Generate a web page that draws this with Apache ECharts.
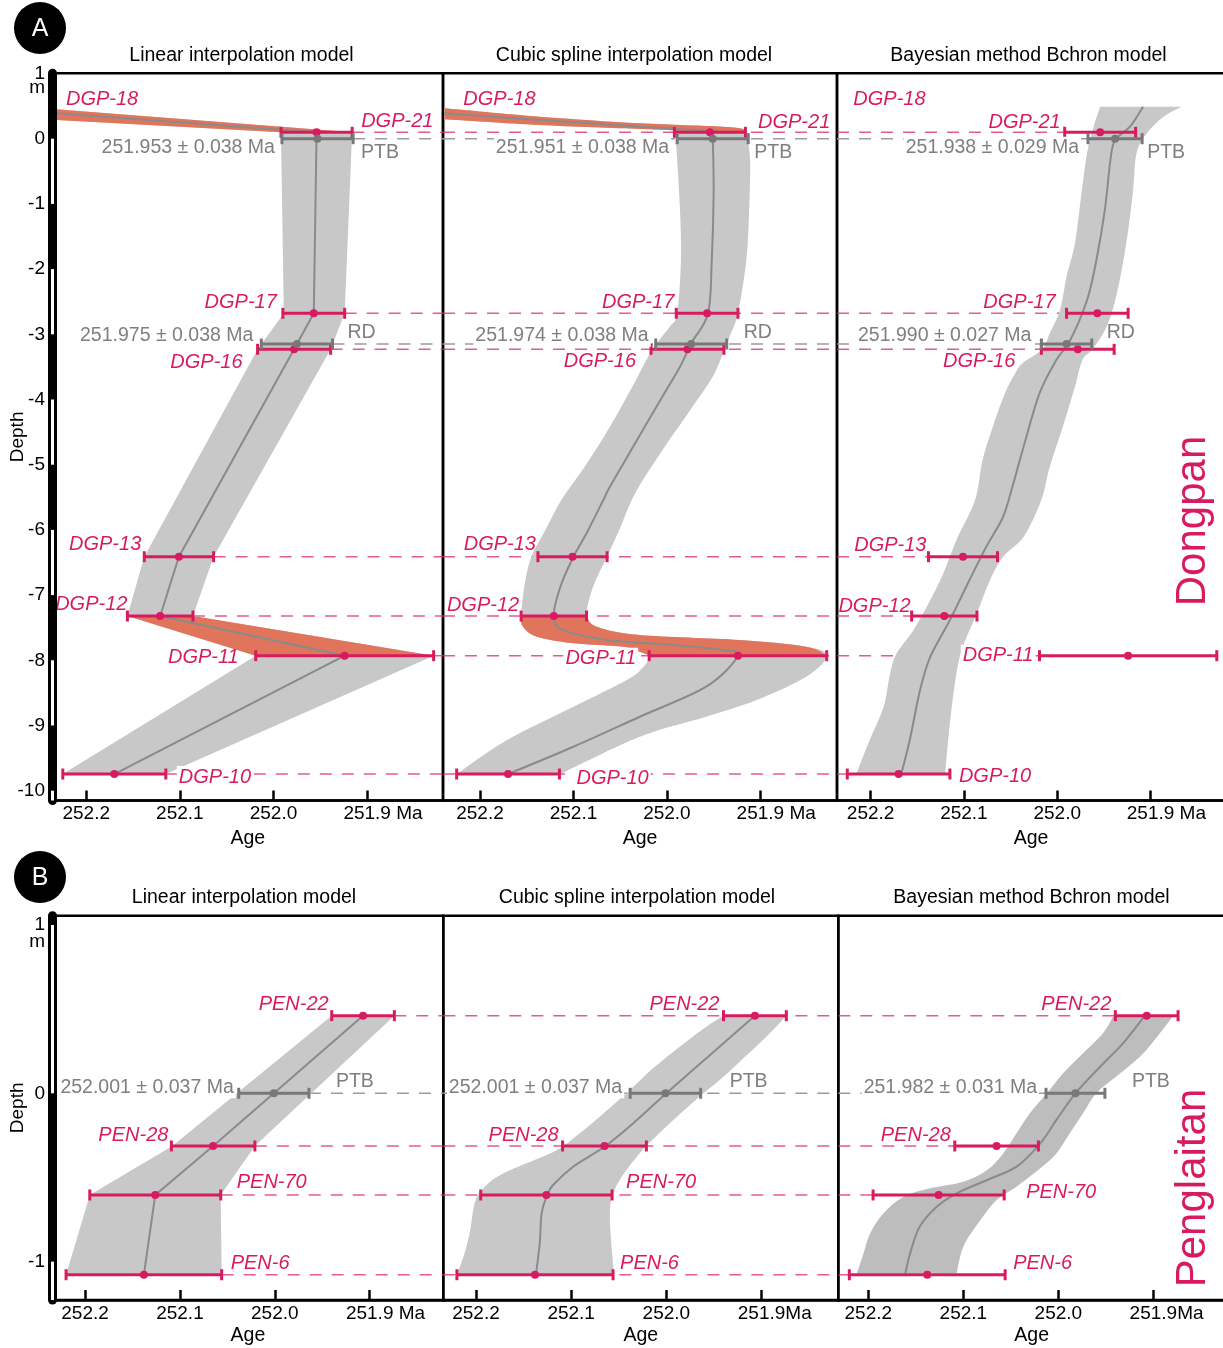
<!DOCTYPE html>
<html>
<head>
<meta charset="utf-8">
<title>Age-depth models: Dongpan and Penglaitan</title>
<script src="https://cdn.jsdelivr.net/npm/echarts@6.0.0/dist/echarts.min.js"></script>
<style>
html,body{margin:0;padding:0;background:#fff;}
#chart{width:1223px;height:1348px;}
</style>
</head>
<body>
<div id="chart"></div>
<script>
// ================= DATA =================
// Dongpan (A): dated ash beds, depth in m, age in Ma, 2-sigma error
const dgpNames = ['DGP-21','DGP-17','DGP-16','DGP-13','DGP-12','DGP-11','DGP-10'];
const dgpDepth = [0.098,-2.678,-3.230,-6.411,-7.321,-7.929,-9.744];
const dgpAge   = [251.954,251.957,251.978,252.101,252.121,251.924,252.170];
const dgpErr   = [0.038,0.033,0.039,0.037,0.035,0.095,0.055];
// Dongpan horizon ages from the three models (linear, spline, Bchron)
const dgpPTBDepth = 0;
const dgpPTBAge = [251.953,251.951,251.938];
const dgpPTBErr = [0.038,0.038,0.029];
const dgpRDDepth = -3.149;
const dgpRDAge = [251.975,251.974,251.990];
const dgpRDErr = [0.038,0.038,0.027];

// Penglaitan (B)
const penNames = ['PEN-22','PEN-28','PEN-70','PEN-6'];
const penDepth = [0.461,-0.313,-0.604,-1.078];
const penAge   = [251.907,252.065,252.126,252.138];
const penErr   = [0.033,0.044,0.069,0.082];
const penPTBDepth = 0;
const penPTBAge = [252.001,252.001,251.982];
const penPTBErr = [0.037,0.037,0.031];

// Model envelopes [age, depth], top -> bottom (lo = older edge, hi = younger edge)
const linA_lo  = [[252.236,0.290],[251.992,0.098],[251.989,-2.678],[252.017,-3.230],[252.138,-6.411],[252.156,-7.321],[252.019,-7.929],[252.225,-9.744]];
const linA_hi  = [[252.236,0.455],[251.916,0.098],[251.924,-2.678],[251.939,-3.230],[252.064,-6.411],[252.086,-7.321],[251.829,-7.929],[252.115,-9.744]];
const linA_mid = [[252.236,0.394],[251.954,0.098],[251.957,-2.678],[251.978,-3.230],[252.101,-6.411],[252.121,-7.321],[251.924,-7.929],[252.170,-9.744]];

const splA_lo  = [[252.238,0.298],[252.136,0.210],[252.029,0.149],[251.991,0.123],[251.991,0.098],
  [251.989,-0.327],[251.986,-1.094],[251.985,-1.860],[251.989,-2.678],[251.997,-2.883],[252.011,-3.138],[252.022,-3.394],
  [252.037,-3.804],[252.061,-4.417],[252.088,-5.031],[252.113,-5.541],[252.130,-6.002],[252.145,-6.411],[252.152,-6.819],[252.156,-7.321],
  [252.154,-7.485],[252.139,-7.638],[252.100,-7.739],[252.047,-7.791],[252.029,-7.868],[252.019,-7.929],
  [252.025,-8.098],[252.043,-8.302],[252.100,-8.712],[252.171,-9.222],[252.225,-9.744]];
const splA_hi  = [[252.238,0.466],[252.136,0.337],[252.029,0.236],[251.940,0.184],[251.917,0.144],[251.915,0.098],
  [251.911,-0.327],[251.912,-1.094],[251.915,-1.860],[251.924,-2.678],[251.933,-3.037],[251.940,-3.291],[251.951,-3.650],
  [251.975,-4.161],[252.007,-4.825],[252.034,-5.439],[252.051,-6.002],[252.064,-6.411],[252.079,-6.871],[252.086,-7.321],
  [252.075,-7.485],[252.029,-7.612],[251.922,-7.689],[251.851,-7.791],[251.829,-7.929],
  [251.851,-8.252],[251.904,-8.609],[251.958,-8.865],[252.029,-9.172],[252.114,-9.744]];
const splA_mid = [[252.238,0.390],[252.136,0.287],[252.029,0.184],[251.952,0.107],[251.951,0.031],[251.950,-0.837],[251.952,-1.860],
  [251.956,-2.678],[251.974,-3.138],[251.986,-3.497],[252.007,-4.008],[252.034,-4.672],[252.061,-5.337],[252.068,-5.541],[252.086,-6.052],
  [252.100,-6.411],[252.114,-6.871],[252.121,-7.321],[252.111,-7.534],[252.064,-7.689],[251.993,-7.765],[251.940,-7.842],[251.924,-7.929],
  [251.958,-8.405],[252.029,-8.865],[252.100,-9.325],[252.170,-9.744]];

const bayA_lo  = [[251.954,0.491],[251.961,0.184],[251.968,-0.224],[251.974,-0.837],[251.981,-1.604],[251.990,-2.117],[251.997,-2.627],
  [252.008,-2.985],[252.016,-3.230],[252.037,-3.440],[252.045,-3.598],[252.056,-3.905],[252.069,-4.417],[252.080,-4.928],[252.088,-5.541],
  [252.108,-6.155],[252.122,-6.666],[252.136,-7.075],[252.154,-7.534],[252.172,-7.893],[252.179,-8.200],[252.186,-8.712],[252.201,-9.222],[252.215,-9.733]];
const bayA_hi  = [[251.867,0.491],[251.886,0.337],[251.904,0.083],[251.915,-0.224],[251.919,-0.837],[251.926,-1.604],[251.936,-2.371],
  [251.947,-2.883],[251.962,-3.225],[251.973,-3.394],[251.981,-3.804],[251.994,-4.417],[252.008,-5.031],[252.017,-5.541],[252.036,-6.104],
  [252.058,-6.411],[252.072,-6.768],[252.086,-7.279],[252.101,-7.791],[252.108,-8.200],[252.115,-8.966],[252.120,-9.733]];
const bayA_mid = [[251.908,0.491],[251.922,0.184],[251.938,-0.020],[251.943,-0.327],[251.949,-1.094],[251.958,-1.860],[251.968,-2.474],
  [251.986,-3.087],[252.001,-3.394],[252.019,-3.905],[252.035,-4.672],[252.048,-5.337],[252.058,-5.798],[252.076,-6.258],[252.094,-6.768],
  [252.115,-7.382],[252.136,-7.945],[252.147,-8.456],[252.158,-9.222],[252.167,-9.733]];

const linB_lo  = [[251.940,0.461],[252.108,-0.313],[252.195,-0.604],[252.220,-1.078]];
const linB_hi  = [[251.874,0.461],[252.021,-0.313],[252.057,-0.604],[252.056,-1.078]];
const linB_mid = [[251.907,0.461],[252.065,-0.313],[252.126,-0.604],[252.138,-1.078]];

const splB_lo  = [[251.940,0.461],[251.958,0.396],[251.986,0.277],[252.014,0.149],[252.042,0.000],[252.070,-0.139],[252.091,-0.238],
  [252.108,-0.313],[252.122,-0.357],[252.147,-0.416],[252.171,-0.475],[252.185,-0.525],[252.194,-0.575],[252.199,-0.614],[252.203,-0.693],
  [252.206,-0.812],[252.212,-0.951],[252.220,-1.078]];
const splB_hi  = [[251.874,0.461],[251.895,0.336],[251.923,0.188],[251.944,0.079],[251.961,0.000],[251.979,-0.089],[252.000,-0.198],
  [252.021,-0.313],[252.031,-0.377],[252.042,-0.456],[252.051,-0.535],[252.056,-0.600],[252.059,-0.674],[252.059,-0.793],[252.057,-0.951],[252.055,-1.078]];
const splB_mid = [[251.907,0.461],[251.952,0.238],[252.000,0.000],[252.031,-0.159],[252.064,-0.313],[252.098,-0.436],[252.119,-0.545],
  [252.125,-0.604],[252.131,-0.713],[252.133,-0.891],[252.137,-1.078]];

const bayB_lo  = [[251.942,0.461],[251.953,0.357],[251.974,0.238],[251.995,0.119],[252.012,0.000],[252.030,-0.119],[252.044,-0.238],
  [252.058,-0.357],[252.075,-0.456],[252.100,-0.525],[252.135,-0.564],[252.163,-0.614],[252.184,-0.713],[252.198,-0.832],[252.205,-0.951],[252.212,-1.070]];
const bayB_hi  = [[251.879,0.461],[251.896,0.336],[251.914,0.218],[251.939,0.099],[251.960,0.000],[251.974,-0.119],[251.988,-0.238],
  [252.002,-0.357],[252.019,-0.446],[252.044,-0.555],[252.065,-0.634],[252.082,-0.753],[252.100,-0.911],[252.107,-1.070]];
const bayB_mid = [[251.909,0.461],[251.932,0.297],[251.956,0.158],[251.982,0.000],[252.002,-0.158],[252.019,-0.297],[252.044,-0.436],
  [252.075,-0.515],[252.107,-0.594],[252.128,-0.674],[252.146,-0.793],[252.156,-0.951],[252.161,-1.070]];

// depth ranges (bottom, top) where model ages reverse (drawn orange)
const reversalA = [[0.098, 2.0], [-7.929, -7.321]];

// section scale-bar: white intervals (top, bottom) in m
const whiteA = [[0,-1],[-2,-3],[-4,-5],[-6,-7],[-8,-9],[-10,-10.15]];
const whiteB = [[1,0],[-1,-1.228]];

// axis text
const modelTitles = ['Linear interpolation model','Cubic spline interpolation model','Bayesian method Bchron model'];
const xTickVals = [252.2,252.1,252.0,251.9];
const xTickTextA = ['252.2','252.1','252.0','251.9 Ma'];
const xTickTextB = [['252.2','252.1','252.0','251.9 Ma'],['252.2','252.1','252.0','251.9Ma'],['252.2','252.1','252.0','251.9Ma']];
const yTicksA = [1,0,-1,-2,-3,-4,-5,-6,-7,-8,-9,-10];
const yTicksB = [1,0,-1];

// ================= STYLE / LAYOUT =================
const FONT = '"Liberation Sans", Arial, Helvetica, sans-serif';
const PINK = '#d81b60';
const PINK_DASH = 'rgba(222,45,112,0.78)';
const GRAY_DASH = '#9b9b9b';
const GRAY_TXT = '#7f7f7f';
const GRAY_BAR = '#787878';
const BAND = '#c9c8c9';
const BAND_DARK = '#bdbdbd';
const ORANGE = '#e0755b';
const MID = '#8a8a8a';

const panels = [
  {grid:{left:52.5, top:73.3, width:390.5, height:727.2}, xr:[251.819,252.236],   yr:[-10.150,1.003]},
  {grid:{left:443,  top:73.3, width:394,   height:727.2}, xr:[251.818,252.2396],  yr:[-10.150,1.003]},
  {grid:{left:837,  top:73.3, width:388,   height:727.2}, xr:[251.8202,252.236],  yr:[-10.150,1.003]},
  {grid:{left:52.5, top:915.7, width:390.8, height:384.3}, xr:[251.8224,252.2343], yr:[-1.228,1.055]},
  {grid:{left:443.3,top:915.7, width:395,   height:384.3}, xr:[251.8194,252.2343], yr:[-1.228,1.055]},
  {grid:{left:838.3,top:915.7, width:386.7, height:384.3}, xr:[251.8246,252.2316], yr:[-1.228,1.055]}
];

const models = [
  {lo:linA_lo, hi:linA_hi, mid:linA_mid, smooth:false, orange:reversalA, fill:BAND},
  {lo:splA_lo, hi:splA_hi, mid:splA_mid, smooth:true,  orange:reversalA, fill:BAND},
  {lo:bayA_lo, hi:bayA_hi, mid:bayA_mid, smooth:true,  orange:[], fill:BAND},
  {lo:linB_lo, hi:linB_hi, mid:linB_mid, smooth:false, orange:[], fill:BAND},
  {lo:splB_lo, hi:splB_hi, mid:splB_mid, smooth:true,  orange:[], fill:BAND},
  {lo:bayB_lo, hi:bayB_hi, mid:bayB_mid, smooth:true,  orange:[], fill:BAND_DARK}
];

// label placement: [anchor, dx, dy, align, whiteBackground]
const labelLayouts = [
 {'DGP-18':['corner',13.5,25.7,'left'], 'm':['tick1',-7.5,14.5,'right'],
  'DGP-21':['hi',9,-11,'left'], 'DGP-17':['lo',-6,-11,'right'], 'DGP-16':['lo',-15,13,'right'],
  'DGP-13':['lo',-3,-12,'right'], 'DGP-12':['lo',0,-12,'right'], 'DGP-11':['lo',-17,2,'right'],
  'DGP-10':['hi',11,3,'left',1],
  'PTB':['hi',8,14,'left'], 'PTB_age':['lo',-5,9,'right',1],
  'RD':['hi',15,-11,'left'], 'RD_age':['lo',-6,-8,'right',1]},
 {'DGP-18':['corner',20.3,26,'left'],
  'DGP-21':['hi',12.6,-10,'left'], 'DGP-17':['lo',-2,-11,'right'], 'DGP-16':['lo',-15,12,'right'],
  'DGP-13':['lo',-2,-12,'right'], 'DGP-12':['lo',-2,-11,'right'], 'DGP-11':['lo',-11,3,'right',1],
  'DGP-10':['hi',15,4,'left',1],
  'PTB':['hi',6,14,'left'], 'PTB_age':['lo',-6,9,'right',1],
  'RD':['hi',17,-11,'left'], 'RD_age':['lo',-5,-8,'right',1]},
 {'DGP-18':['corner',16.3,26,'left'],
  'DGP-21':['lo',-4,-10,'right'], 'DGP-17':['lo',-11,-11,'right'], 'DGP-16':['lo',-26,12,'right'],
  'DGP-13':['lo',-2,-11,'right'], 'DGP-12':['lo',-1,-10,'right'], 'DGP-11':['lo',-4,0,'right',1],
  'DGP-10':['hi',9,2,'left'],
  'PTB':['hi',5,14,'left'], 'PTB_age':['lo',-7,9,'right',1],
  'RD':['hi',15,-11,'left'], 'RD_age':['lo',-8,-8,'right',1]},
 {'m':['tick1',-7.5,17,'right'],
  'PEN-22':['lo',-3,-11,'right'], 'PEN-28':['lo',-3,-11,'right'], 'PEN-70':['hi',16,-13,'left'], 'PEN-6':['hi',9,-11,'left'],
  'PTB':['hi',27,-12,'left'], 'PTB_age':['lo',-3,-6,'right',1]},
 {'PEN-22':['lo',-4,-11,'right'], 'PEN-28':['lo',-4,-11,'right'], 'PEN-70':['hi',14,-13,'left'], 'PEN-6':['hi',7,-11,'left'],
  'PTB':['hi',29,-12,'left'], 'PTB_age':['lo',-6,-6,'right',1]},
 {'PEN-22':['lo',-4,-11,'right'], 'PEN-28':['lo',-4,-11,'right'], 'PEN-70':['hi',22,-3,'left'], 'PEN-6':['hi',8,-11,'left'],
  'PTB':['hi',27,-12,'left'], 'PTB_age':['lo',-7,-6,'right',1]}
];

// ================= BUILD =================
function rowsFor(pi){
  const m = pi % 3, rows = [];
  if (pi < 3) {
    dgpNames.forEach((n,i)=>rows.push({name:n, age:dgpAge[i], err:dgpErr[i], depth:dgpDepth[i], pink:true}));
    rows.push({name:'PTB', age:dgpPTBAge[m], err:dgpPTBErr[m], depth:dgpPTBDepth, pink:false});
    rows.push({name:'RD', age:dgpRDAge[m], err:dgpRDErr[m], depth:dgpRDDepth, pink:false});
  } else {
    penNames.forEach((n,i)=>rows.push({name:n, age:penAge[i], err:penErr[i], depth:penDepth[i], pink:true}));
    rows.push({name:'PTB', age:penPTBAge[m], err:penPTBErr[m], depth:penPTBDepth, pink:false});
  }
  return rows;
}

function pathD(pts, smooth, start){
  let d = (start ? 'M' : 'L') + pts[0][0].toFixed(2) + ' ' + pts[0][1].toFixed(2);
  for (let i = 0; i < pts.length - 1; i++) {
    const p0 = pts[i-1] || pts[i], p1 = pts[i], p2 = pts[i+1], p3 = pts[i+2] || pts[i+1];
    if (smooth) {
      const c1 = [p1[0] + (p2[0]-p0[0])/6, p1[1] + (p2[1]-p0[1])/6];
      const c2 = [p2[0] - (p3[0]-p1[0])/6, p2[1] - (p3[1]-p1[1])/6];
      d += ' C' + c1[0].toFixed(2) + ' ' + c1[1].toFixed(2) + ' ' + c2[0].toFixed(2) + ' ' + c2[1].toFixed(2) + ' ' + p2[0].toFixed(2) + ' ' + p2[1].toFixed(2);
    } else {
      d += ' L' + p2[0].toFixed(2) + ' ' + p2[1].toFixed(2);
    }
  }
  return d;
}
function polyD(lo, hi, smooth){
  return pathD(lo, smooth, true) + ' ' + pathD(hi.slice().reverse(), smooth, false) + ' Z';
}

const series = [];
panels.forEach((P, pi) => {
  const m = pi % 3, rows = rowsFor(pi), md = models[pi];

  // dashed correlation lines
  const dash = rows.map(r => [m === 0 ? r.age - r.err : P.xr[1], r.depth, m === 2 ? r.age + r.err : P.xr[0], r.pink ? 1 : 0]);
  series.push({type:'custom', xAxisIndex:pi, yAxisIndex:pi, z:1, silent:true, clip:false, data:dash,
    renderItem:(params, api) => {
      const a = api.coord([api.value(0), api.value(1)]), b = api.coord([api.value(2), api.value(1)]);
      return {type:'line', shape:{x1:a[0], y1:a[1], x2:b[0], y2:b[1]},
        style:{stroke: api.value(3) ? PINK_DASH : GRAY_DASH, lineWidth:1.5, lineDash:[12,10], fill:'none'}};
    }});

  // model envelope
  series.push({type:'custom', xAxisIndex:pi, yAxisIndex:pi, z:2, silent:true, clip:true, data:md.mid.slice(0,1),
    renderItem:(params, api) => {
      const px = pts => pts.map(p => api.coord(p));
      const children = [{type:'path', shape:{pathData: polyD(px(md.lo), px(md.hi), md.smooth)}, style:{fill: md.fill, stroke:'none'}}];
      md.orange.forEach(r => {
        const f = pts => pts.filter(p => p[1] >= r[0] - 1e-9 && p[1] <= r[1] + 1e-9);
        children.push({type:'path', shape:{pathData: polyD(px(f(md.lo)), px(f(md.hi)), md.smooth)}, style:{fill: ORANGE, stroke:'none'}});
      });
      return {type:'group', children};
    }});

  // median line
  series.push({type:'custom', xAxisIndex:pi, yAxisIndex:pi, z:3, silent:true, clip:true, data:md.mid.slice(0,1),
    renderItem:(params, api) => ({type:'path', shape:{pathData: pathD(md.mid.map(p => api.coord(p)), md.smooth, true)},
      style:{fill:'none', stroke: MID, lineWidth:2}})});

  // error bars
  series.push({type:'custom', xAxisIndex:pi, yAxisIndex:pi, z:4, silent:true, clip:false,
    data: rows.map(r => [r.age, r.depth, r.err, r.pink ? 1 : 0]),
    renderItem:(params, api) => {
      const a = api.value(0), d = api.value(1), e = api.value(2), col = api.value(3) ? PINK : GRAY_BAR;
      const L = api.coord([a + e, d]), R = api.coord([a - e, d]), C = api.coord([a, d]);
      const st = {stroke: col, lineWidth: 3, fill:'none'};
      return {type:'group', children:[
        {type:'line', shape:{x1:L[0], y1:L[1], x2:R[0], y2:R[1]}, style:st},
        {type:'line', shape:{x1:L[0], y1:L[1]-5.5, x2:L[0], y2:L[1]+5.5}, style:st},
        {type:'line', shape:{x1:R[0], y1:R[1]-5.5, x2:R[0], y2:R[1]+5.5}, style:st},
        {type:'circle', shape:{cx:C[0], cy:C[1], r:4}, style:{fill: col, stroke:'none'}}
      ]};
    }});

  // labels
  const lay = labelLayouts[pi], items = [];
  const mk = (spec, r, text, kind) => {
    let age, depth;
    if (spec[0] === 'corner') { age = P.xr[1]; depth = P.yr[1]; }
    else if (spec[0] === 'tick1') { age = P.xr[1]; depth = 1; }
    else { age = spec[0] === 'lo' ? r.age + r.err : spec[0] === 'hi' ? r.age - r.err : r.age; depth = r.depth; }
    const sty = kind === 'sample' ? {color:PINK, size:20, italic:true}
              : kind === 'unit' ? {color:'#000', size:19, italic:false}
              : {color:GRAY_TXT, size:19.5, italic:false};
    items.push(Object.assign({age, depth, text, dx:spec[1], dy:spec[2], align:spec[3], bg:!!spec[4]}, sty));
  };
  rows.forEach(r => {
    if (lay[r.name]) mk(lay[r.name], r, r.name, r.pink ? 'sample' : 'level');
    if (lay[r.name + '_age']) mk(lay[r.name + '_age'], r, r.age.toFixed(3) + ' ± ' + r.err.toFixed(3) + ' Ma', 'age');
  });
  if (lay['DGP-18']) mk(lay['DGP-18'], null, 'DGP-18', 'sample');
  if (lay['m']) mk(lay['m'], null, 'm', 'unit');
  series.push({type:'custom', xAxisIndex:pi, yAxisIndex:pi, z:6, silent:true, clip:false,
    data: items.map((it, i) => [it.age, it.depth, i]),
    renderItem:(params, api) => {
      const it = items[api.value(2)];
      const p = api.coord([api.value(0), api.value(1)]);
      const style = {text: it.text, fill: it.color, fontSize: it.size, fontFamily: FONT,
        fontStyle: it.italic ? 'italic' : 'normal', align: it.align, verticalAlign:'middle',
        textAlign: it.align, textVerticalAlign:'middle'};
      if (it.bg) { style.backgroundColor = '#fff'; style.padding = [1, 2]; }
      return {type:'text', x: p[0] + it.dx, y: p[1] + it.dy, style};
    }});

  // section scale bar white intervals
  if (m === 0) {
    const wh = pi < 3 ? whiteA : whiteB;
    series.push({type:'custom', xAxisIndex:pi, yAxisIndex:pi, z:11, silent:true, clip:false, data: wh,
      renderItem:(params, api) => {
        const t = api.coord([P.xr[1], api.value(0)]), b = api.coord([P.xr[1], api.value(1)]);
        return {type:'rect', shape:{x: t[0] - 1.5, y: t[1], width: 3, height: b[1] - t[1]}, style:{fill:'#fff', stroke:'none'}};
      }});
  }
});

const padW = [31.7, 31.7, 31.7, 31.7, 26.4, 26.4];

const graphic = [
  {type:'circle', shape:{cx:40, cy:28, r:26}, style:{fill:'#000'}},
  {type:'text', x:40, y:29, style:{text:'A', fill:'#fff', fontSize:25, fontFamily:FONT, align:'center', verticalAlign:'middle', textAlign:'center', textVerticalAlign:'middle'}},
  {type:'circle', shape:{cx:40, cy:877, r:26}, style:{fill:'#000'}},
  {type:'text', x:40, y:878, style:{text:'B', fill:'#fff', fontSize:25, fontFamily:FONT, align:'center', verticalAlign:'middle', textAlign:'center', textVerticalAlign:'middle'}},
  {type:'text', x:1193, y:521, rotation:Math.PI/2, style:{text:'Dongpan', fill:PINK, fontSize:42, fontFamily:FONT, align:'center', verticalAlign:'middle', textAlign:'center', textVerticalAlign:'middle'}},
  {type:'text', x:1193, y:1188, rotation:Math.PI/2, style:{text:'Penglaitan', fill:PINK, fontSize:42, fontFamily:FONT, align:'center', verticalAlign:'middle', textAlign:'center', textVerticalAlign:'middle'}}
];
const titleX = [[241.5, 634, 1028.5], [244, 637, 1031.5]];
const titleY = [56, 898];
[0,1].forEach(row => modelTitles.forEach((t, k) => graphic.push(
  {type:'text', x:titleX[row][k], y:titleY[row], style:{text:t, fill:'#000', fontSize:19.5, fontFamily:FONT, align:'center', verticalAlign:'middle', textAlign:'center', textVerticalAlign:'middle'}})));

const option = {
  animation:false,
  backgroundColor:'#fff',
  textStyle:{fontFamily:FONT},
  grid: panels.map(P => ({left:P.grid.left, top:P.grid.top, width:P.grid.width, height:P.grid.height,
    containLabel:false, outerBoundsMode:'none', show:true, borderColor:'#000', borderWidth:2.5, backgroundColor:'transparent'})),
  xAxis: panels.map((P, pi) => {
    const texts = pi < 3 ? xTickTextA : xTickTextB[pi - 3];
    return {gridIndex:pi, type:'value', inverse:true, min:P.xr[0], max:P.xr[1], position:'bottom',
      axisLine:{show:true, onZero:false, lineStyle:{color:'#000', width:2.5}},
      axisTick:{show:true, inside:true, length:10, customValues:xTickVals, lineStyle:{color:'#000', width:2.5}},
      axisLabel:{show:true, customValues:xTickVals, margin: pi < 3 ? 4 : 3.8, color:'#000', fontSize:19, fontFamily:FONT,
        hideOverlap:false,
        formatter: v => { const i = xTickVals.findIndex(t => Math.abs(t - v) < 1e-6); if (i < 0) return ''; return i === 3 ? '{p|}' + texts[i] : texts[i]; },
        rich:{p:{width:padW[pi]}}},
      splitLine:{show:false},
      name:'Age', nameLocation:'middle', nameGap: pi < 3 ? 28.5 : 26, nameMoveOverlap:false,
      nameTextStyle:{color:'#000', fontSize:19.5, fontFamily:FONT}};
  }),
  yAxis: panels.map((P, pi) => ({gridIndex:pi, type:'value', min:P.yr[0], max:P.yr[1], position:'left',
    show: pi % 3 === 0, z:10,
    axisLine:{show:true, onZero:false, lineStyle:{color:'#000', width:9}},
    axisTick:{show:false}, splitLine:{show:false},
    axisLabel:{show:true, customValues: pi < 3 ? yTicksA : yTicksB, margin:7.5, color:'#000', fontSize:19, fontFamily:FONT,
      hideOverlap:false, formatter: v => String(Math.round(v))},
    name:'Depth', nameLocation:'middle', nameGap:25, nameMoveOverlap:false,
    nameTextStyle:{color:'#000', fontSize:19, fontFamily:FONT}})),
  graphic,
  series
};

const chart = echarts.init(document.getElementById('chart'), null, {renderer:'canvas', width:1223, height:1348});
chart.setOption(option);
</script>
</body>
</html>
